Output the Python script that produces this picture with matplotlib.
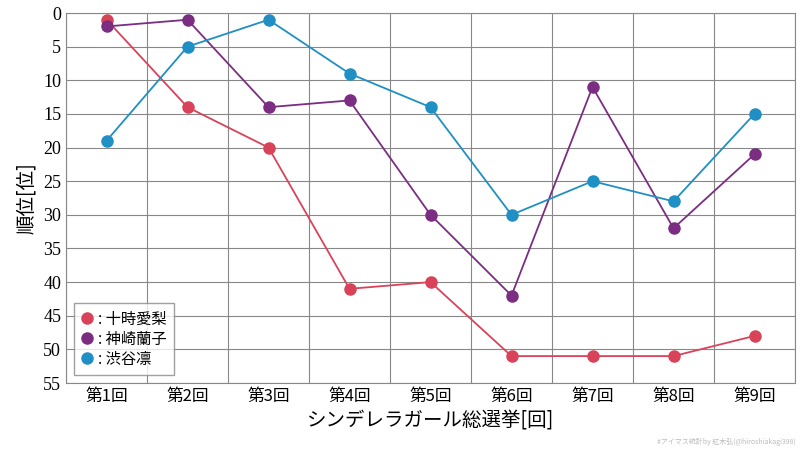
import matplotlib
matplotlib.use("Agg")
import matplotlib.pyplot as plt

categories = ["第1回","第2回","第3回","第4回","第5回","第6回","第7回","第8回","第9回"]
names = ["十時愛梨","神崎蘭子","渋谷凛"]
totoki = [1,14,20,41,40,51,51,51,48]
kanzaki = [2,1,14,13,30,42,11,32,21]
shibuya = [19,5,1,9,14,30,25,28,15]
colors = ["#d9435a","#7b2d82","#1f8fc4"]
yticks = list(range(0,56,5))

jp = "Noto Sans CJK JP"
fig = plt.figure(figsize=(8,4.5), dpi=100)
ax = fig.add_axes([66/800, 1-383/450, (795-66)/800, (383-13)/450])
x = list(range(len(categories)))
for vals, c, n in zip([totoki,kanzaki,shibuya], colors, names):
    ax.plot(x, vals, color=c, lw=1.3, marker="o", ms=8, label=": "+n, clip_on=False, zorder=3)
ax.set_xlim(-0.5, 8.5)
ax.set_ylim(55, 0)
ax.set_yticks(yticks)
ax.set_yticklabels([str(v) for v in yticks], fontfamily="Liberation Serif", fontsize=13)
ax.set_xticks(x)
ax.set_xticklabels(categories, fontfamily=jp, fontsize=12)
ax.set_xticks([i+0.5 for i in range(-1,9)], minor=True)
ax.grid(False)
ax.xaxis.grid(True, which="minor", color="#888888", lw=0.8)
ax.yaxis.grid(True, color="#888888", lw=0.8)
ax.tick_params(which="both", length=0)
for s in ax.spines.values():
    s.set_color("#888888"); s.set_linewidth(0.8)
ax.set_ylabel("順位[位]", fontfamily=jp, fontsize=14)
ax.set_xlabel("シンデレラガール総選挙[回]", fontfamily=jp, fontsize=14)
leg = ax.legend(loc="lower left", prop={"family": jp, "size": 11}, frameon=True, fancybox=False,
                edgecolor="#888888", handlelength=0.8, handletextpad=0.3, borderpad=0.5, labelspacing=0.2,
                bbox_to_anchor=(0.0, 0.0))
for l in leg.get_lines():
    l.set_linestyle("")
fig.text(0.995, 0.01, "#アイマス統計by 紅木弘(@hiroshiakagi398)", ha="right", va="bottom",
         fontsize=5, color="#bbbbbb", fontfamily=jp)
fig.savefig("out.png", dpi=100)
